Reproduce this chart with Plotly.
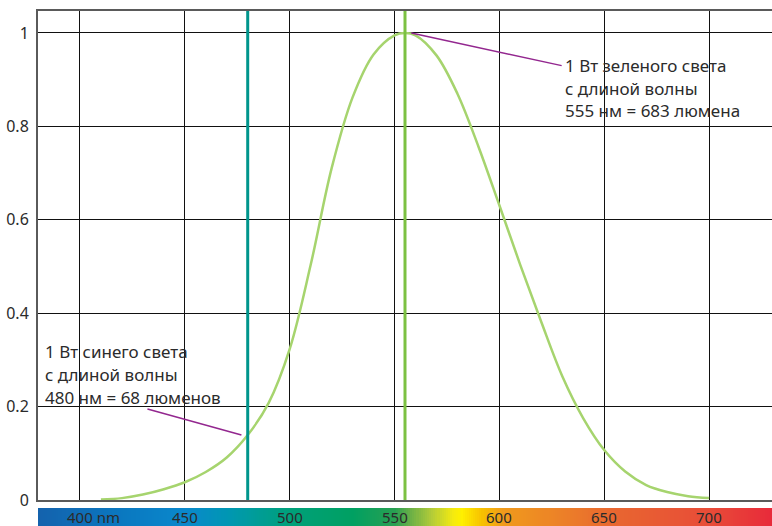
import numpy as np
import plotly.graph_objects as go

# Photopic luminous efficiency curve V(lambda)
wavelength = [410, 420, 430, 440, 450, 460, 470, 480, 490, 500, 510, 520, 530, 540,
              550, 555, 560, 570, 580, 590, 600, 610, 620, 630, 640, 650, 660, 670,
              680, 690, 700]
efficiency = [0.0012, 0.0040, 0.0116, 0.0230, 0.0380, 0.0600, 0.0910, 0.1390, 0.2080,
              0.3230, 0.5030, 0.7100, 0.8620, 0.9540, 0.9950, 1.0000, 0.9950, 0.9520,
              0.8700, 0.7570, 0.6310, 0.5030, 0.3810, 0.2650, 0.1750, 0.1070, 0.0610,
              0.0320, 0.0170, 0.0082, 0.0041]

x_ticks = [400, 450, 500, 550, 600, 650, 700]
x_tick_labels = ["400 nm", "450", "500", "550", "600", "650", "700"]
y_ticks = [0, 0.2, 0.4, 0.6, 0.8, 1]
y_tick_labels = ["0", "0.2", "0.4", "0.6", "0.8", "1"]

blue_line_nm = 480
green_line_nm = 555
blue_value = 0.139
green_value = 1.0

blue_text = ["1 Вт синего света", "с длиной волны", "480 нм = 68 люменов"]
green_text = ["1 Вт зеленого света", "с длиной волны", "555 нм = 683 люмена"]

# spectrum strip colour stops (wavelength, colour)
spectrum_stops = [(380, "#1462ad"), (420, "#0a78c0"), (450, "#0a88cc"), (470, "#0096b4"),
                  (482, "#009c9c"), (500, "#00a07a"), (530, "#00a062"), (550, "#28a052"),
                  (558, "#6cb046"), (568, "#b4cc38"), (578, "#f4ea10"), (582, "#fff000"),
                  (592, "#f7c000"), (602, "#f09a1c"), (630, "#ec8028"), (655, "#e86630"),
                  (700, "#e84c38"), (730, "#e82a3a")]

X_MIN, X_MAX = 380, 730
Y_MAX = 1.047
FONT = "Noto Sans"
TEXT = "#2b2b2b"

fig = go.Figure()

# spectrum strip below the axis
strip_x = np.linspace(X_MIN, X_MAX, 351)
lo, hi = spectrum_stops[0][0], spectrum_stops[-1][0]
colorscale = [[(w - lo) / (hi - lo), c] for w, c in spectrum_stops]
fig.add_trace(go.Heatmap(x=strip_x, y=[0, 1], z=[strip_x, strip_x], colorscale=colorscale,
                         zmin=lo, zmax=hi, showscale=False, hoverinfo="skip",
                         xaxis="x", yaxis="y2"))

# luminosity curve
fig.add_trace(go.Scatter(x=wavelength, y=efficiency, mode="lines",
                         line=dict(color="#a6d46e", width=2.5, shape="spline"),
                         hoverinfo="skip", showlegend=False))

# callout leader lines
fig.add_trace(go.Scatter(x=[432.2, 477], y=[0.195, blue_value], mode="lines",
                         line=dict(color="#93278f", width=1.5), showlegend=False,
                         hoverinfo="skip"))
fig.add_trace(go.Scatter(x=[558, 629.7], y=[green_value, 0.93], mode="lines",
                         line=dict(color="#93278f", width=1.5), showlegend=False,
                         hoverinfo="skip"))

# wavelength markers
fig.add_shape(type="line", xref="x", yref="y domain", x0=blue_line_nm, x1=blue_line_nm,
              y0=0, y1=1, line=dict(color="#00958c", width=3))
fig.add_shape(type="line", xref="x", yref="y domain", x0=green_line_nm, x1=green_line_nm,
              y0=0, y1=1, line=dict(color="#7cc142", width=3))

annotations = []
for i, t in enumerate(blue_text):
    annotations.append(dict(x=382.5, y=(500 - 352 - 23 * i) / 467, xref="x", yref="y",
                            text=t, showarrow=False, xanchor="left", yanchor="middle",
                            font=dict(family=FONT, size=17, color=TEXT)))
for i, t in enumerate(green_text):
    annotations.append(dict(x=630.2, y=(500 - 66 - 22.5 * i) / 467, xref="x", yref="y",
                            text=t, showarrow=False, xanchor="left", yanchor="middle",
                            font=dict(family=FONT, size=17, color=TEXT)))
for v, t in zip(x_ticks, x_tick_labels):
    annotations.append(dict(x=v, y=0.5, xref="x", yref="y2", text=t, showarrow=False,
                            xanchor="left" if t.endswith("nm") else "center",
                            xshift=-15 if t.endswith("nm") else 0, yanchor="middle",
                            font=dict(family=FONT, size=15, color=TEXT)))

H = 515
fig.update_layout(
    template="none",
    width=772, height=526,
    margin=dict(l=38, r=0, t=11, b=0, pad=0),
    paper_bgcolor="white", plot_bgcolor="white",
    showlegend=False,
    xaxis=dict(range=[X_MIN, X_MAX], tickvals=x_ticks, showticklabels=False,
               showgrid=True, gridcolor="#111111", gridwidth=1, zeroline=False,
               showline=True, linecolor="#5a5a5a", linewidth=2, mirror=True,
               ticks="", anchor="y", automargin=False),
    yaxis=dict(domain=[26 / H, 1], range=[0, Y_MAX], tickvals=y_ticks,
               ticktext=y_tick_labels, showgrid=True, gridcolor="#111111", gridwidth=1,
               zeroline=False, showline=True, linecolor="#5a5a5a", linewidth=2,
               ticks="", ticklabelstandoff=4, automargin=False,
               tickfont=dict(family=FONT, size=16, color=TEXT)),
    yaxis2=dict(domain=[0, 18 / H], range=[0, 1], visible=False, anchor="x",
                automargin=False),
    annotations=annotations,
)

fig.write_html("out.html")
